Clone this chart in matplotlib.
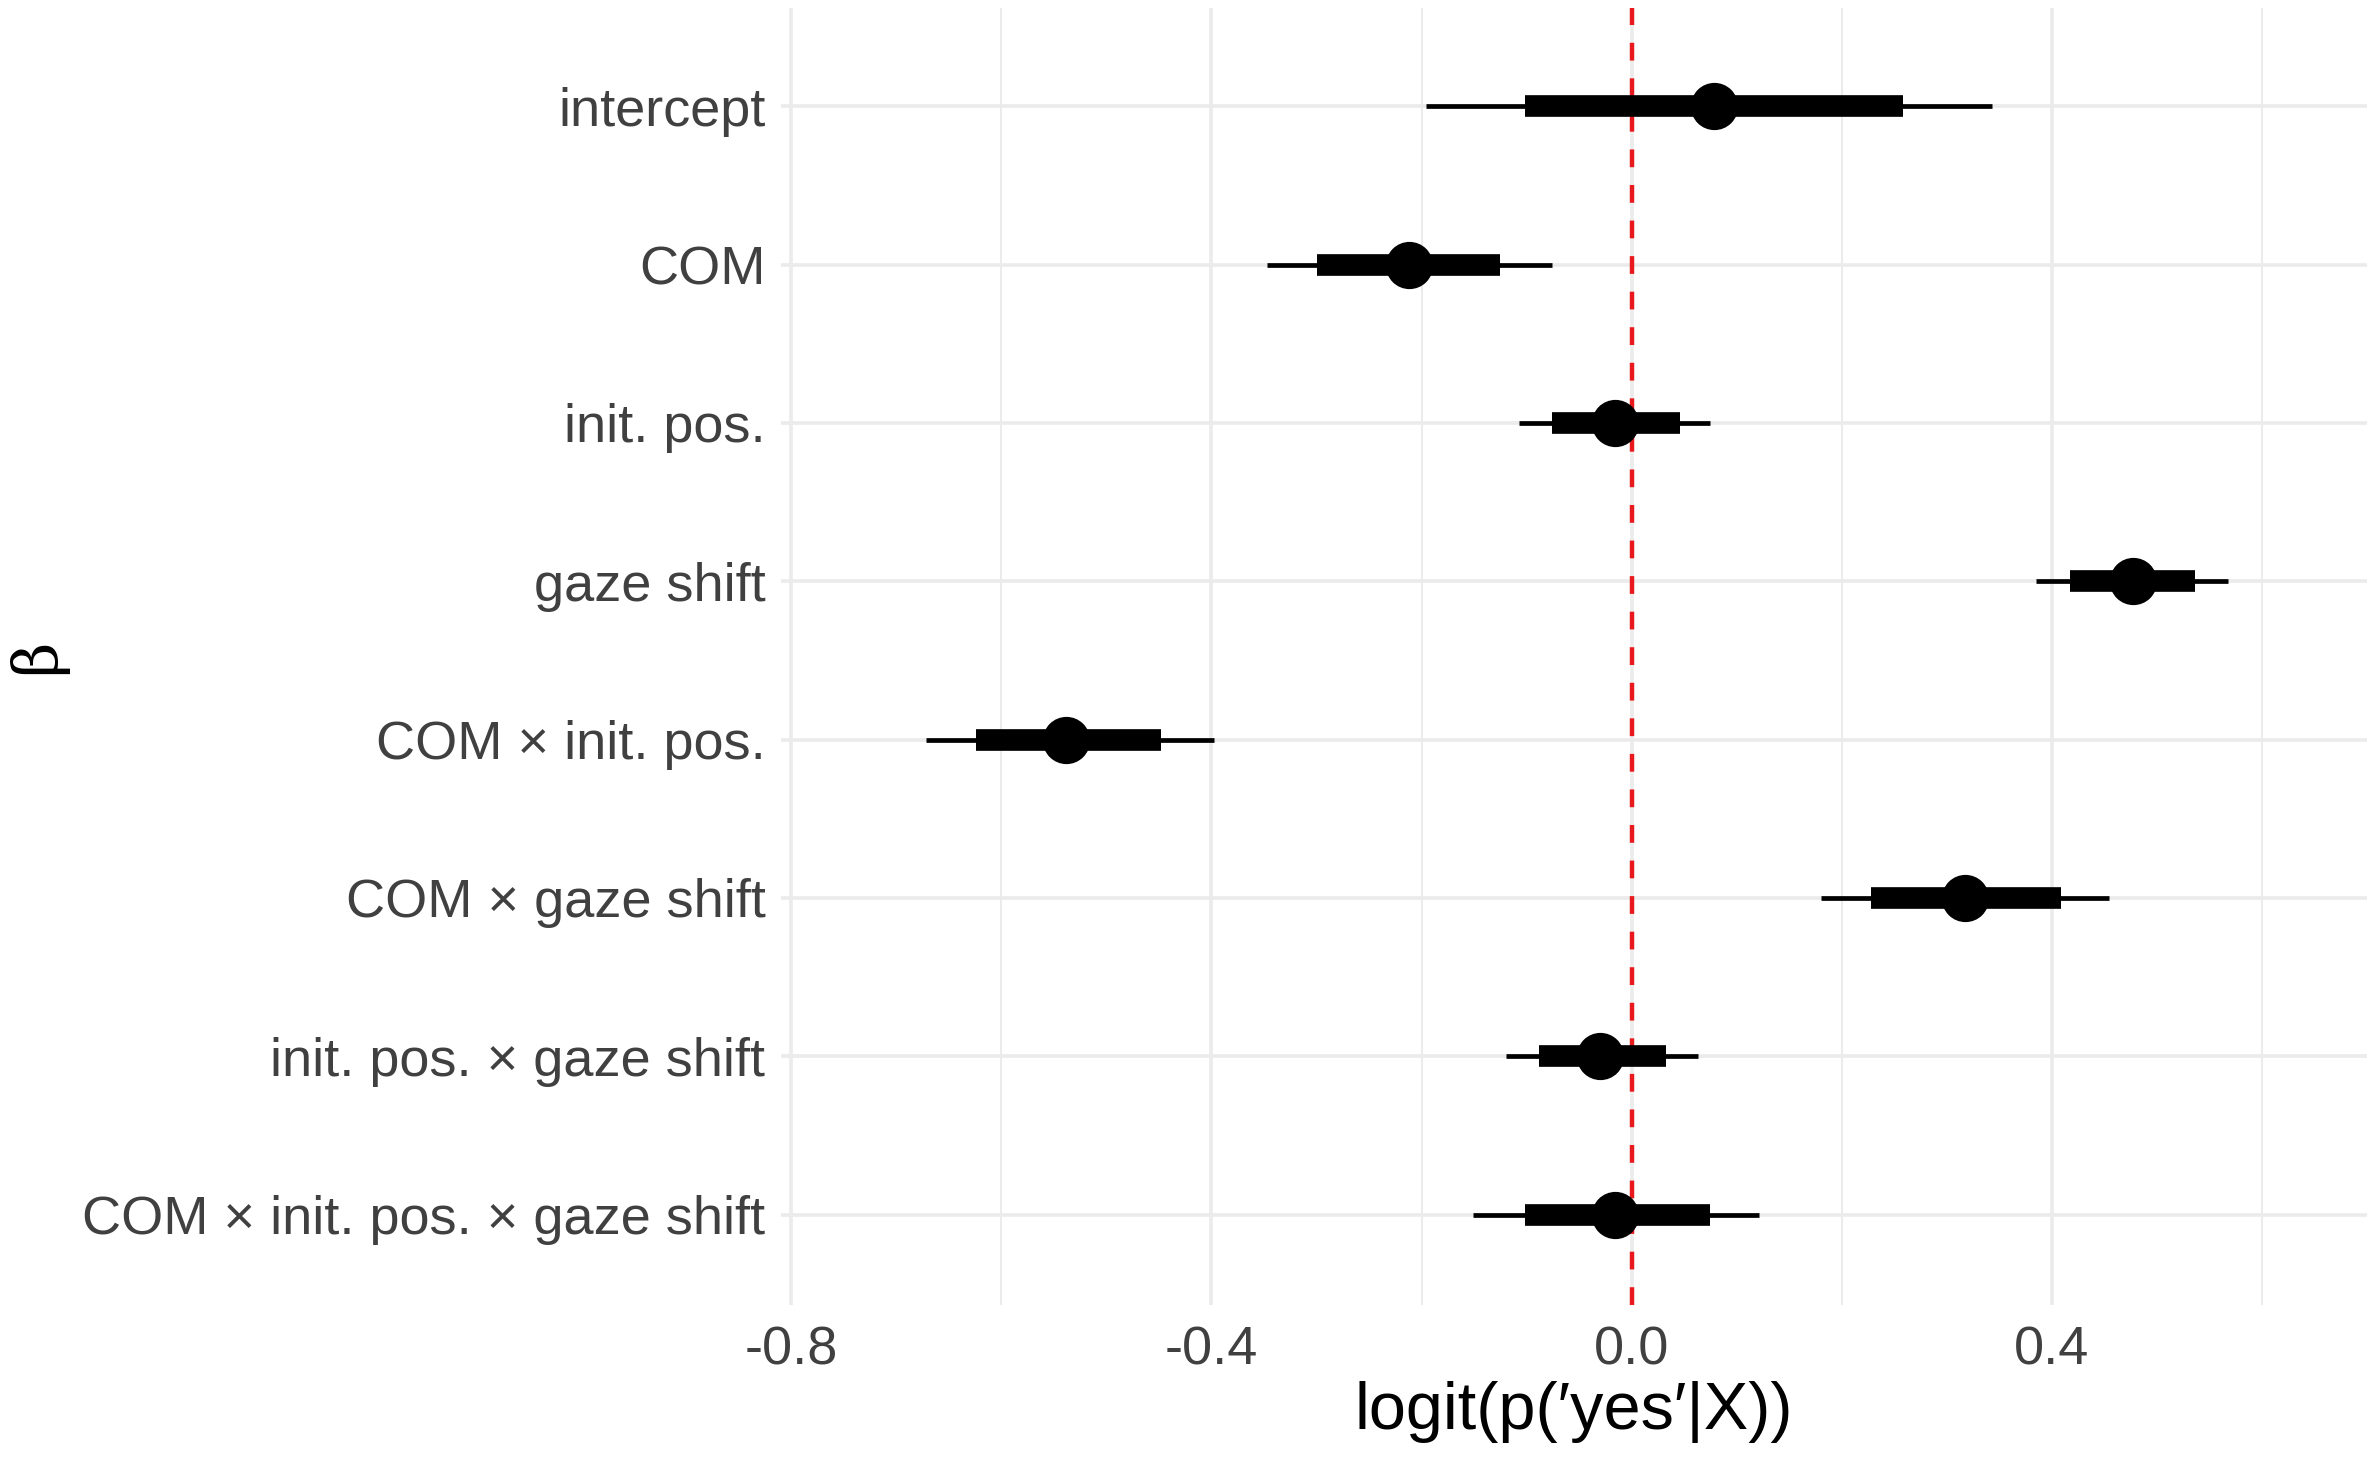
import numpy as np
import matplotlib
matplotlib.use("Agg")
import matplotlib.pyplot as plt

# coefficient names, top to bottom
terms = ["intercept", "COM", "init. pos.", "gaze shift",
         "COM \u00d7 init. pos.", "COM \u00d7 gaze shift",
         "init. pos. \u00d7 gaze shift", "COM \u00d7 init. pos. \u00d7 gaze shift"]

# posterior median and intervals
median = [0.078, -0.212, -0.016, 0.477, -0.538, 0.317, -0.030, -0.016]
inner_lo = [-0.102, -0.300, -0.076, 0.417, -0.624, 0.228, -0.088, -0.102]
inner_hi = [0.258, -0.125, 0.046, 0.536, -0.448, 0.409, 0.033, 0.075]
outer_lo = [-0.196, -0.347, -0.107, 0.385, -0.672, 0.180, -0.120, -0.151]
outer_hi = [0.343, -0.076, 0.075, 0.568, -0.398, 0.454, 0.063, 0.121]

major_ticks = [-0.8, -0.4, 0.0, 0.4]
minor_ticks = [-0.6, -0.2, 0.2, 0.6]
tick_labels = ["-0.8", "-0.4", "0.0", "0.4"]

plt.rcParams['font.family'] = ['Liberation Sans', 'DejaVu Sans']

fig = plt.figure(figsize=(2373 / 200, 1461 / 200), dpi=200)
ax = fig.add_axes([0.329, 0.1068, 0.6685, 0.8877])

n = len(terms)
y = np.arange(n)[::-1] + 1  # first term on top

# grid like theme_minimal
for xv in major_ticks:
    ax.axvline(xv, color="#EBEBEB", lw=1.3, zorder=0)
for xv in minor_ticks:
    ax.axvline(xv, color="#EBEBEB", lw=0.7, zorder=0)
for yv in y:
    ax.axhline(yv, color="#EBEBEB", lw=1.3, zorder=0)

ax.axvline(0, color="#E8191C", lw=1.6, dashes=(4, 4), zorder=1)

ax.hlines(y, outer_lo, outer_hi, color="black", lw=1.7, zorder=2)
ax.hlines(y, inner_lo, inner_hi, color="black", lw=7.8, zorder=3)
ax.plot(median, y, "o", color="black", markersize=16, zorder=4)

ax.set_xlim(-0.81, 0.70)
ax.set_ylim(0.43, n + 0.62)
ax.set_xticks(major_ticks)
ax.set_xticklabels(tick_labels)
ax.set_yticks(y)
ax.set_yticklabels(terms)
ax.tick_params(axis="both", length=0, labelsize=19.5, labelcolor="#404040")
ax.tick_params(axis="x", pad=7.5)
ax.tick_params(axis="y", pad=5.5)
for s in ax.spines.values():
    s.set_visible(False)

ax.set_xlabel("logit(p(\u2032yes\u2032|X))", fontsize=24, labelpad=2)
ax.set_ylabel("\u03b2", fontsize=22, family=["DejaVu Serif"])
ax.yaxis.set_label_coords(-0.45, 0.5)

fig.savefig("out.png", dpi=200)
